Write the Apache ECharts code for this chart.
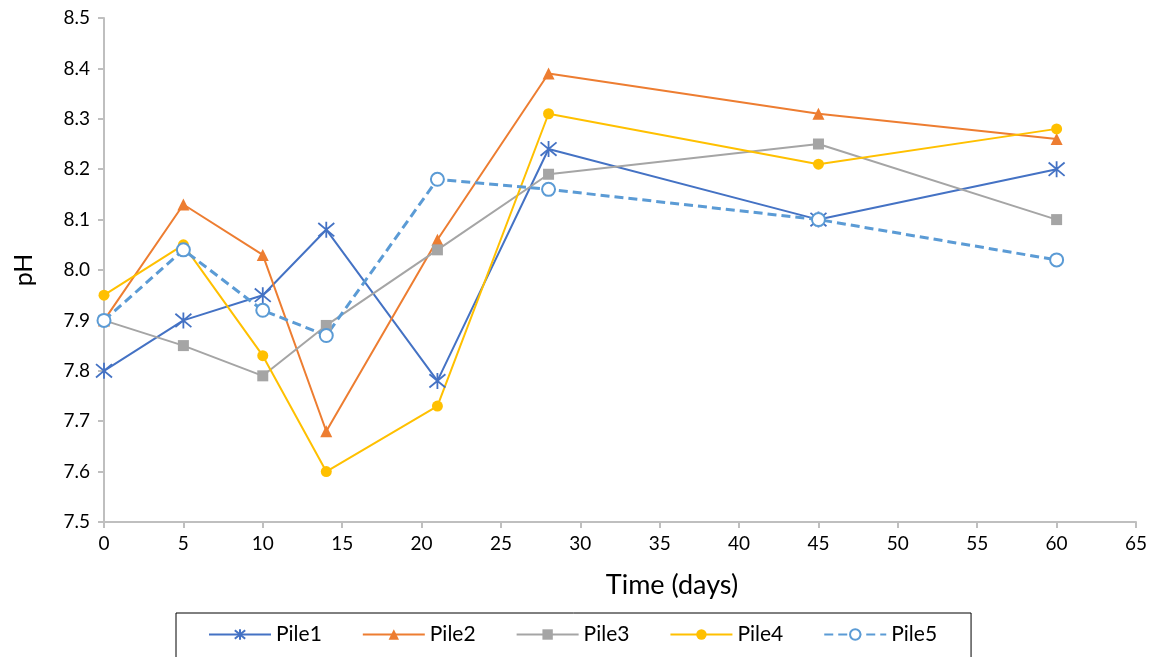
<!DOCTYPE html>
<html>
<head>
<meta charset="utf-8">
<script src="https://cdn.jsdelivr.net/npm/echarts@6/dist/echarts.min.js"></script>
<style>
  html, body { margin: 0; padding: 0; background: #fff; }
  #main { width: 1156px; height: 657px; }
</style>
</head>
<body>
<div id="main"></div>
<script type="text/javascript">
    // sampling days and pH readings for each pile
    var days  = [0, 5, 10, 14, 21, 28, 45, 60];
    var pile1 = [7.80, 7.90, 7.95, 8.08, 7.78, 8.24, 8.10, 8.20];
    var pile2 = [7.90, 8.13, 8.03, 7.68, 8.06, 8.39, 8.31, 8.26];
    var pile3 = [7.90, 7.85, 7.79, 7.89, 8.04, 8.19, 8.25, 8.10];
    var pile4 = [7.95, 8.05, 7.83, 7.60, 7.73, 8.31, 8.21, 8.28];
    var pile5 = [7.90, 8.04, 7.92, 7.87, 8.18, 8.16, 8.10, 8.02];
    var names = ['Pile1', 'Pile2', 'Pile3', 'Pile4', 'Pile5'];

    function pairs(vals) {
        return days.map(function (d, i) { return [d, vals[i]]; });
    }

    var font = 'Lato, "Liberation Sans", sans-serif';
    var axisGray = '#bfbfbf';

    var myChart = echarts.init(document.getElementById('main'));

    var option = {
        animation: false,
        backgroundColor: '#fff',
        textStyle: { fontFamily: font },
        grid: { left: 104, right: 20, top: 18, bottom: 135 },
        legend: {
            data: names,
            left: 176,
            top: 613,
            padding: [11, 34, 30, 32],
            borderColor: '#000',
            borderWidth: 1,
            itemWidth: 62,
            itemHeight: 13,
            itemGap: 40,
            textStyle: { fontSize: 21, color: '#000', fontFamily: font }
        },
        xAxis: {
            type: 'value',
            min: 0, max: 65, interval: 5,
            name: 'Time (days)',
            nameLocation: 'middle',
            nameGap: 50,
            // title sits right of the plot centre in the original
            nameTextStyle: { fontSize: 27, color: '#000', padding: [0, 0, 0, 104] },
            axisLine: { show: true, lineStyle: { color: axisGray, width: 2 } },
            axisTick: { show: true, length: 6, lineStyle: { color: axisGray, width: 2 } },
            axisLabel: { fontSize: 19, color: '#000', margin: 12 },
            splitLine: { show: false }
        },
        yAxis: {
            type: 'value',
            min: 7.5, max: 8.5, interval: 0.1,
            name: 'pH',
            nameLocation: 'middle',
            nameGap: 68,
            nameRotate: 90,
            nameTextStyle: { fontSize: 25, color: '#000' },
            axisLine: { show: true, lineStyle: { color: axisGray, width: 2 } },
            axisTick: { show: true, length: 6, lineStyle: { color: axisGray, width: 2 } },
            axisLabel: {
                fontSize: 19, color: '#000', margin: 14,
                formatter: function (v) { return v.toFixed(1); }
            },
            splitLine: { show: false }
        },
        series: [
            {
                name: 'Pile1', type: 'line', data: pairs(pile1),
                symbol: 'path://M0,0L10,10M10,0L0,10M5,-1L5,11',
                symbolSize: 16,
                lineStyle: { color: '#4472c4', width: 2 },
                itemStyle: { color: '#4472c4', borderColor: '#4472c4', borderWidth: 1.8 }
            },
            {
                name: 'Pile2', type: 'line', data: pairs(pile2),
                symbol: 'triangle', symbolSize: 12,
                lineStyle: { color: '#ed7d31', width: 2 },
                itemStyle: { color: '#ed7d31' }
            },
            {
                name: 'Pile3', type: 'line', data: pairs(pile3),
                symbol: 'rect', symbolSize: 11,
                lineStyle: { color: '#a5a5a5', width: 2 },
                itemStyle: { color: '#a5a5a5' }
            },
            {
                name: 'Pile4', type: 'line', data: pairs(pile4),
                symbol: 'circle', symbolSize: 11,
                lineStyle: { color: '#ffc000', width: 2 },
                itemStyle: { color: '#ffc000' }
            },
            {
                name: 'Pile5', type: 'line', data: pairs(pile5),
                symbol: 'emptyCircle', symbolSize: 13,
                lineStyle: { color: '#5b9bd5', width: 3, type: [9, 5] },
                itemStyle: { color: '#5b9bd5', borderColor: '#5b9bd5', borderWidth: 1.8 }
            }
        ]
    };

    myChart.setOption(option);
</script>
</body>
</html>
